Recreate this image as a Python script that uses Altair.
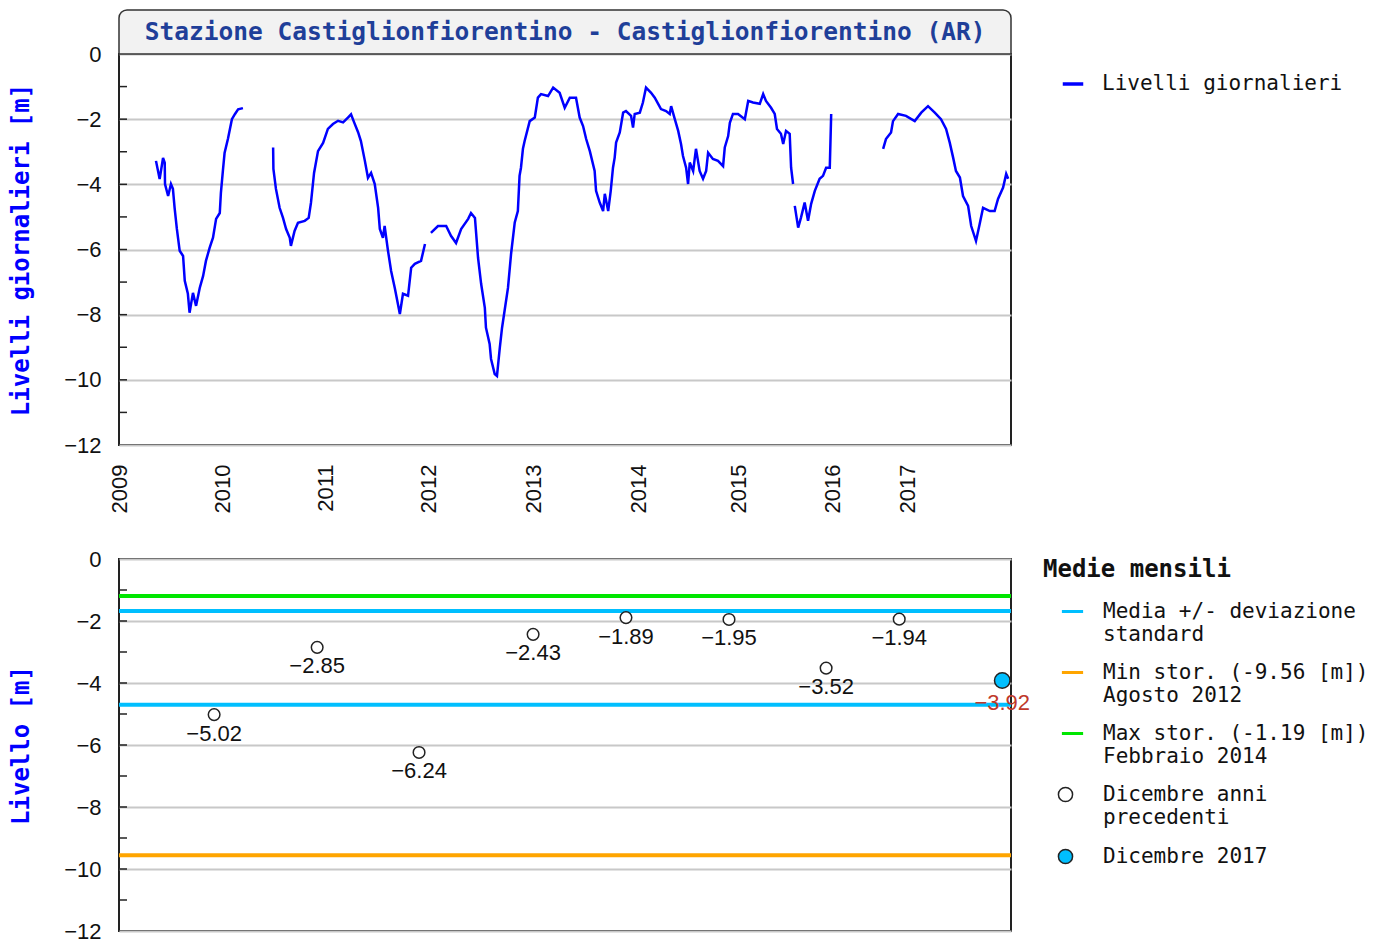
import altair as alt
import pandas as pd

TITLE = "Stazione Castiglionfiorentino - Castiglionfiorentino (AR)"
SERIE = "Livelli giornalieri"

# x = progressive index of the daily samples (the source plots by sample order)
year_labels = ["2009", "2010", "2011", "2012", "2013", "2014", "2015", "2016", "2017"]
year_idx = [0, 365, 730, 1098, 1467, 1839, 2193, 2526, 2795]
x_end = 3160

# daily levels, one list pair per continuous stretch of data
seg1_idx = [131, 144, 156, 162, 163, 174, 184, 191, 197, 205, 215, 227, 233, 244, 250, 262, 273,
            286, 298, 308, 321, 333, 344, 357, 361, 368, 374, 386, 400, 411, 422, 439]
seg1_lvl = [-3.28, -3.84, -3.19, -3.34, -3.99, -4.36, -3.99, -4.14, -4.72, -5.37, -6.04, -6.20,
            -6.96, -7.36, -7.94, -7.33, -7.73, -7.18, -6.81, -6.35, -5.95, -5.64, -5.06, -4.88,
            -4.26, -3.59, -3.04, -2.60, -2.00, -1.84, -1.70, -1.66]

seg2_idx = [546, 547, 556, 569, 581, 592, 605, 609, 622, 634, 658, 672, 680, 691, 705, 723, 740,
            758, 776, 794, 811, 822, 833, 847, 857, 871, 882, 893, 906, 918, 924, 935, 941, 953,
            964, 977, 995, 1006, 1024, 1035, 1048, 1070, 1084]
seg2_lvl = [-2.87, -3.53, -4.14, -4.72, -5.03, -5.37, -5.64, -5.89, -5.43, -5.18, -5.12, -5.03,
            -4.57, -3.65, -2.98, -2.73, -2.30, -2.15, -2.05, -2.10, -1.95, -1.85, -2.10, -2.40,
            -2.67, -3.28, -3.80, -3.65, -3.99, -4.72, -5.37, -5.64, -5.28, -6.04, -6.66, -7.18,
            -7.98, -7.36, -7.42, -6.56, -6.44, -6.35, -5.83]

seg3_idx = [1105, 1130, 1159, 1176, 1194, 1212, 1237, 1247, 1261, 1272, 1283, 1296, 1300, 1313,
            1318, 1331, 1339, 1349, 1357, 1367, 1378, 1389, 1402, 1413, 1419, 1424, 1431, 1437,
            1455, 1473, 1484, 1495, 1520, 1538, 1561, 1579, 1597, 1619, 1632, 1644, 1655, 1668,
            1685, 1690, 1703, 1715, 1721, 1733, 1742, 1750, 1756, 1761, 1774, 1786, 1796, 1814,
            1821, 1827, 1845, 1856, 1867, 1885, 1898, 1910, 1920, 1938, 1951, 1956, 1969, 1981,
            1991, 1998, 2009, 2016, 2022, 2034, 2044, 2057, 2069, 2080, 2087, 2104, 2122, 2140,
            2146, 2158, 2164, 2175, 2193, 2217, 2229, 2246, 2270, 2282, 2292, 2310, 2323, 2331,
            2345, 2353, 2363, 2376, 2381, 2388]
seg3_lvl = [-5.49, -5.28, -5.28, -5.58, -5.80, -5.37, -5.06, -4.88, -5.03, -6.26, -7.06, -7.79,
            -8.40, -8.90, -9.36, -9.82, -9.88, -9.02, -8.40, -7.82, -7.18, -6.13, -5.17, -4.82,
            -3.74, -3.49, -2.91, -2.67, -2.06, -1.95, -1.34, -1.23, -1.29, -1.03, -1.19, -1.65,
            -1.34, -1.34, -1.95, -2.21, -2.61, -2.98, -3.59, -4.20, -4.56, -4.82, -4.29, -4.82,
            -4.20, -3.49, -3.18, -2.72, -2.41, -1.80, -1.75, -1.90, -2.26, -1.84, -1.80, -1.49,
            -1.03, -1.19, -1.34, -1.53, -1.69, -1.75, -1.84, -1.60, -2.00, -2.36, -2.76, -3.13,
            -3.49, -3.99, -3.33, -3.59, -2.91, -3.59, -3.83, -3.59, -3.03, -3.22, -3.28, -3.44,
            -2.87, -2.52, -2.11, -1.84, -1.84, -2.00, -1.44, -1.49, -1.53, -1.23, -1.44, -1.65,
            -1.84, -2.30, -2.45, -2.76, -2.36, -2.45, -3.49, -3.99]

seg4_idx = [2394, 2406, 2416, 2429, 2441, 2452, 2465, 2482, 2494, 2505, 2518, 2523]
seg4_lvl = [-4.66, -5.33, -5.02, -4.56, -5.12, -4.60, -4.20, -3.83, -3.74, -3.49, -3.49, -1.84]

seg5_idx = [2707, 2717, 2735, 2742, 2760, 2788, 2819, 2842, 2866, 2890, 2912, 2930, 2943, 2955,
            2965, 2979, 2990, 3008, 3019, 3036, 3049, 3061, 3085, 3102, 3114, 3132, 3143, 3150]
seg5_lvl = [-2.91, -2.61, -2.41, -2.06, -1.84, -1.90, -2.06, -1.80, -1.60, -1.80, -2.00, -2.30,
            -2.72, -3.18, -3.59, -3.79, -4.36, -4.66, -5.28, -5.74, -5.22, -4.72, -4.82, -4.82,
            -4.45, -4.10, -3.68, -3.83]

# monthly means (December)
dec_idx = [337, 702, 1063, 1467, 1796, 2161, 2505, 2764]
dec_val = [-5.02, -2.85, -6.24, -2.43, -1.89, -1.95, -3.52, -1.94]
cur_idx = [3129]
cur_val = [-3.92]
media = -3.19
dev_std = 1.51
min_stor = -9.56
min_when = "Agosto 2012"
max_stor = -1.19
max_when = "Febbraio 2014"

y_major = [-12, -10, -8, -6, -4, -2, 0]
y_minor = [-11, -10, -9, -8, -7, -6, -5, -4, -3, -2, -1]

# ---------------------------------------------------------------- styles
SANS = "Liberation Sans"
MONO = "DejaVu Sans Mono"
W, H_TOP, H_BOT = 892, 391, 372

segs = [(seg1_idx, seg1_lvl), (seg2_idx, seg2_lvl), (seg3_idx, seg3_lvl),
        (seg4_idx, seg4_lvl), (seg5_idx, seg5_lvl)]
rows = []
for k, (ii, vv) in enumerate(segs):
    for i, v in zip(ii, vv):
        rows.append({"idx": i, "lvl": v, "seg": k, "serie": SERIE})
df_daily = pd.DataFrame(rows)

xscale = alt.Scale(domain=[0, x_end], nice=False, zero=False)
yscale = alt.Scale(domain=[-12, 0], nice=False, zero=False)

label_expr = ("[" + ",".join(f"'{y}'" for y in year_labels) + "][indexof(["
              + ",".join(str(v) for v in year_idx) + "], datum.value)]")


def yaxis(title):
    return alt.Axis(values=y_major, grid=True, gridColor="#c8c8c8", gridWidth=2,
                    ticks=False, domain=False, labelFont=SANS, labelFontSize=22,
                    labelColor="#111111", labelPadding=18, title=title, titleFont=MONO,
                    titleFontWeight="bold", titleFontSize=24, titleColor="#0000ff",
                    titlePadding=30)


df_title = pd.DataFrame({"t": [TITLE]})
title_box = alt.Chart(df_title).mark_rect(
    fill="#f2f2f2", stroke="#333333", strokeWidth=1.5,
    cornerRadiusTopLeft=8, cornerRadiusTopRight=8
).encode(x=alt.value(0), x2=alt.value(W), y=alt.value(-44), y2=alt.value(0))
title_txt = alt.Chart(df_title).mark_text(
    font=MONO, fontWeight="bold", fontSize=24.5, color="#1f3f99", baseline="middle"
).encode(text="t:N", x=alt.value(W / 2), y=alt.value(-21))

df_ticks = pd.DataFrame({"t": y_minor})
ticks_top = alt.Chart(df_ticks).mark_rule(color="#222222", strokeWidth=1.5).encode(
    y=alt.Y("t:Q", scale=yscale, axis=yaxis("Livelli giornalieri [m]")),
    x=alt.value(0), x2=alt.value(8))

line = alt.Chart(df_daily).mark_line(strokeWidth=2.5).encode(
    x=alt.X("idx:Q", scale=xscale,
            axis=alt.Axis(values=year_idx, labelExpr=label_expr, labelAngle=270,
                          grid=False, ticks=False, domain=False, labelFont=SANS,
                          labelFontSize=22, labelColor="#111111", labelPadding=19,
                          title=None)),
    y=alt.Y("lvl:Q", scale=yscale, axis=yaxis("Livelli giornalieri [m]")),
    color=alt.Color("serie:N", scale=alt.Scale(domain=[SERIE], range=["#0000ff"]),
                    legend=alt.Legend(title=None, orient="none", legendX=942, legendY=18,
                                      symbolType="stroke", symbolSize=420,
                                      symbolStrokeWidth=3.5, labelFont=MONO,
                                      labelFontSize=21, labelColor="#111111",
                                      labelOffset=17, labelLimit=400, padding=0)),
    detail="seg:N")

top = alt.layer(title_box, title_txt, ticks_top, line).properties(width=W, height=H_TOP)

# ---------------------------------------------------------------- bottom
rule_keys = ["media", "min", "max"]
rule_text = [["Media +/- deviazione", "standard"],
             [f"Min stor. ({min_stor:.2f} [m])", min_when],
             [f"Max stor. ({max_stor:.2f} [m])", max_when]]
rule_colors = ["#00bfff", "#ffa500", "#00e600"]
df_rules = pd.DataFrame({
    "val": [media + dev_std, media - dev_std, min_stor, max_stor],
    "cat": ["media", "media", "min", "max"]})


def obj_expr(keys, texts):
    parts = []
    for k, t in zip(keys, texts):
        parts.append(f"'{k}': [" + ",".join(f"'{s}'" for s in t) + "]")
    return "{" + ",".join(parts) + "}[datum.label]"


pt_keys = ["prec", "corr"]
pt_text = [["Dicembre anni", "precedenti"], ["Dicembre 2017"]]
pt_colors = ["#ffffff", "#00bfff"]

ticks_bot = alt.Chart(df_ticks).mark_rule(color="#222222", strokeWidth=1.5).encode(
    y=alt.Y("t:Q", scale=yscale, axis=yaxis("Livello [m]")),
    x=alt.value(0), x2=alt.value(8))

rules = alt.Chart(df_rules).mark_rule(strokeWidth=4).encode(
    y=alt.Y("val:Q", scale=yscale, axis=yaxis("Livello [m]")),
    stroke=alt.Stroke("cat:N", scale=alt.Scale(domain=rule_keys, range=rule_colors),
                      legend=alt.Legend(title="Medie mensili", titleFont=MONO,
                                        titleFontWeight="bold", titleFontSize=24,
                                        titleColor="#111111", titlePadding=17,
                                        titleLimit=400,
                                        orient="none", legendX=924, legendY=-1,
                                        symbolType="stroke", symbolSize=450,
                                        symbolStrokeWidth=3, symbolOffset=17,
                                        labelExpr=obj_expr(rule_keys, rule_text),
                                        labelFont=MONO, labelFontSize=21,
                                        labelColor="#111111", labelBaseline="middle",
                                        labelOffset=18, labelLimit=400, rowPadding=15,
                                        padding=0)))

df_pts = pd.DataFrame({
    "idx": dec_idx + cur_idx,
    "val": dec_val + cur_val,
    "tipo": ["prec"] * len(dec_idx) + ["corr"] * len(cur_idx)})
df_prev = df_pts[df_pts.tipo == "prec"]
df_cur = df_pts[df_pts.tipo == "corr"]

fill_enc = alt.Fill(
    "tipo:N", scale=alt.Scale(domain=pt_keys, range=pt_colors),
    legend=alt.Legend(title=None, orient="none", legendX=936, legendY=225,
                      symbolType="circle", symbolSize=200,
                      symbolStrokeColor="#222222", symbolStrokeWidth=1.5,
                      labelExpr=obj_expr(pt_keys, pt_text),
                      labelFont=MONO, labelFontSize=21, labelColor="#111111",
                      labelBaseline="middle", labelOffset=27,
                      labelLimit=400, rowPadding=17, padding=0))

pts_prev = alt.Chart(df_prev).mark_point(filled=True, stroke="#222222", strokeWidth=1.5,
                                         opacity=1, size=135).encode(
    x=alt.X("idx:Q", scale=xscale, axis=None),
    y=alt.Y("val:Q", scale=yscale, axis=yaxis("Livello [m]")),
    fill=fill_enc)

pts_cur = alt.Chart(df_cur).mark_point(filled=True, stroke="#222222", strokeWidth=1.5,
                                       opacity=1, size=240).encode(
    x=alt.X("idx:Q", scale=xscale, axis=None),
    y=alt.Y("val:Q", scale=yscale, axis=yaxis("Livello [m]")),
    fill=fill_enc)

labels_prev = alt.Chart(df_prev).mark_text(
    font=SANS, fontSize=22, color="#111111", baseline="middle", dy=19).encode(
    x=alt.X("idx:Q", scale=xscale, axis=None),
    y=alt.Y("val:Q", scale=yscale),
    text=alt.Text("val:Q", format=".2f"))

labels_cur = alt.Chart(df_cur).mark_text(
    font=SANS, fontSize=22, color="#c0392b", baseline="middle", dy=22).encode(
    x=alt.X("idx:Q", scale=xscale, axis=None),
    y=alt.Y("val:Q", scale=yscale),
    text=alt.Text("val:Q", format=".2f"))

bottom = alt.layer(ticks_bot, rules, pts_prev, pts_cur, labels_prev, labels_cur).properties(
    width=W, height=H_BOT)

chart = alt.vconcat(top, bottom, spacing=33).resolve_scale(
    color="independent", stroke="independent", fill="independent",
    x="independent", y="independent"
).properties(
    padding={"left": 0, "top": 0, "right": 0, "bottom": 0},
    background="white"
).configure_view(stroke="#222222", strokeWidth=2)

chart.save("out.html", embed_options={"renderer": "svg", "actions": False})
